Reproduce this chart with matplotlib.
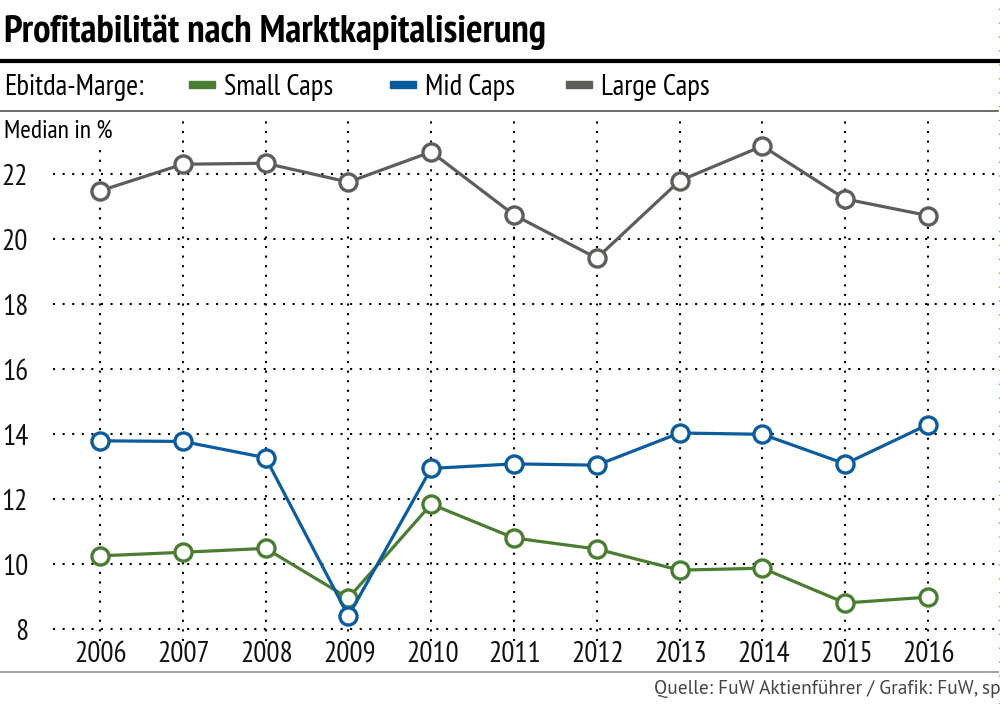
import matplotlib
matplotlib.use("Agg")
import matplotlib.pyplot as plt
from matplotlib import font_manager
from matplotlib.patches import Rectangle
from matplotlib.lines import Line2D

years = [2006, 2007, 2008, 2009, 2010, 2011, 2012, 2013, 2014, 2015, 2016]
small_caps = [10.26, 10.37, 10.49, 8.96, 11.85, 10.81, 10.47, 9.82, 9.88, 8.81, 8.99]
mid_caps = [13.80, 13.78, 13.28, 8.41, 12.95, 13.09, 13.05, 14.04, 14.00, 13.09, 14.30]
large_caps = [21.49, 22.31, 22.34, 21.76, 22.69, 20.75, 19.42, 21.80, 22.87, 21.24, 20.73]
y_ticks = [8, 10, 12, 14, 16, 18, 20, 22]

series_names = ["Small Caps", "Mid Caps", "Large Caps"]
colors = {"Small Caps": "#4a7d32", "Mid Caps": "#0b5c9e", "Large Caps": "#5f5d5a"}

weights = {}
for f in font_manager.fontManager.ttflist:
    weights.setdefault(f.name, set()).add(f.weight if isinstance(f.weight, int) else 400)

def pick(prefs, need_bold=False):
    for p in prefs:
        if p in weights:
            if not need_bold or any(w >= 600 for w in weights[p]):
                return p
    return "Liberation Sans"

cond_prefs = ["PT Sans Narrow", "Fira Sans Condensed", "Open Sans Condensed", "Roboto Condensed",
              "Asap Condensed", "Encode Sans Condensed", "Archivo Narrow", "IBM Plex Sans Condensed",
              "Sofia Sans Condensed", "Saira SemiCondensed", "Barlow Condensed"]
narrow = pick(cond_prefs)
narrow_bold = pick(cond_prefs, need_bold=True)
regular = pick(["PT Sans", "Source Sans 3", "Fira Sans", "Liberation Sans"])

W, H = 1000, 704
fig = plt.figure(figsize=(W / 100, H / 100), dpi=100)
renderer = fig.canvas.get_renderer()

def fx(px):
    return px / W

def fy(py):
    return 1 - py / H

def fit(t, target_w):
    fs = t.get_fontsize()
    w = t.get_window_extent(renderer).width
    if w > 0:
        t.set_fontsize(fs * target_w / w)
    return t.get_fontsize()

# axes: x from px 53 to 1000, y from px 117 to 641
top_px, bot_px = 117, 641
ax = fig.add_axes([fx(53), fy(bot_px), fx(1000) - fx(53), fy(top_px) - fy(bot_px)])
x0 = 2006 - 47 / 82.8
x1 = 2006 + (1000 - 100) / 82.8
ax.set_xlim(x0, x1)
ylo = 8 - (bot_px - 629.3) / 32.5
ax.set_ylim(ylo, ylo + (bot_px - top_px) / 32.5)
for s in ax.spines.values():
    s.set_visible(False)
ax.set_xticks(years)
ax.set_yticks(y_ticks)
ax.tick_params(length=0, labelbottom=False, labelleft=False)
ax.grid(True, color="black", linestyle=(0, (1, 3.6)), linewidth=1.5)
ax.set_axisbelow(True)

data = {"Small Caps": small_caps, "Mid Caps": mid_caps, "Large Caps": large_caps}
for name in ["Large Caps", "Small Caps", "Mid Caps"]:
    ax.plot(years, data[name], color=colors[name], linewidth=2.3, marker="o",
            markersize=12.3, markerfacecolor="white", markeredgewidth=2.4,
            markeredgecolor=colors[name], zorder=3, clip_on=False)

# tick labels
probe = fig.text(0, 0, "2006", fontsize=20, family=narrow)
tick_fs = fit(probe, 52)
probe.remove()
for y in years:
    fig.text(fx(101 + (y - 2006) * 82.8), fy(654), str(y), ha="center", va="center",
             fontsize=tick_fs, family=narrow, color="#111111")
for v in y_ticks:
    py = 174.3 + (22 - v) * 32.5 + 3
    fig.text(fx(28), fy(py), str(v), ha="right", va="center",
             fontsize=tick_fs, family=narrow, color="#111111")

# title & rules
title = fig.text(fx(4), fy(42), "Profitabilität nach Marktkapitalisierung", ha="left",
                 va="baseline", fontsize=26, fontweight="bold", family=narrow_bold, color="black")
fit(title, 541)
fig.add_artist(Line2D([0, fx(998)], [fy(61), fy(61)], color="black", linewidth=3))
fig.add_artist(Line2D([0, fx(998)], [fy(111), fy(111)], color="#444444", linewidth=1.1))
fig.add_artist(Line2D([0, fx(998)], [fy(672), fy(672)], color="#888888", linewidth=1.1))

# legend row
leg_probe = fig.text(0, 0, "Small Caps", fontsize=19, family=narrow)
leg_fs = fit(leg_probe, 108)
leg_probe.remove()
fig.text(fx(4), fy(95), "Ebitda-Marge:", ha="left", va="baseline",
         fontsize=leg_fs, family=narrow, color="black")
leg_x = {"Small Caps": 189, "Mid Caps": 390, "Large Caps": 566}
for name in series_names:
    lx = leg_x[name]
    fig.add_artist(Rectangle((fx(lx), fy(88)), fx(26), fy(81) - fy(88),
                             transform=fig.transFigure, color=colors[name]))
    fig.text(fx(lx + 35), fy(95), name, ha="left", va="baseline",
             fontsize=leg_fs, family=narrow, color="black")

med = fig.text(fx(4), fy(138), "Median in %", ha="left", va="baseline",
               fontsize=15, family=narrow, color="black", zorder=5,
               bbox=dict(facecolor="white", edgecolor="none", pad=4))
fit(med, 109)

# right edge dotted guide
fig.add_artist(Line2D([fx(998.5), fx(998.5)], [0, 1], color="#66cc66",
                      linewidth=1, linestyle=(0, (1, 9))))

src = fig.text(fx(654), fy(694), "Quelle: FuW Aktienführer / Grafik: FuW, sp", ha="left",
               va="baseline", fontsize=12, family=regular, color="#444444")
fit(src, 344)

fig.savefig("out.png", dpi=100)
